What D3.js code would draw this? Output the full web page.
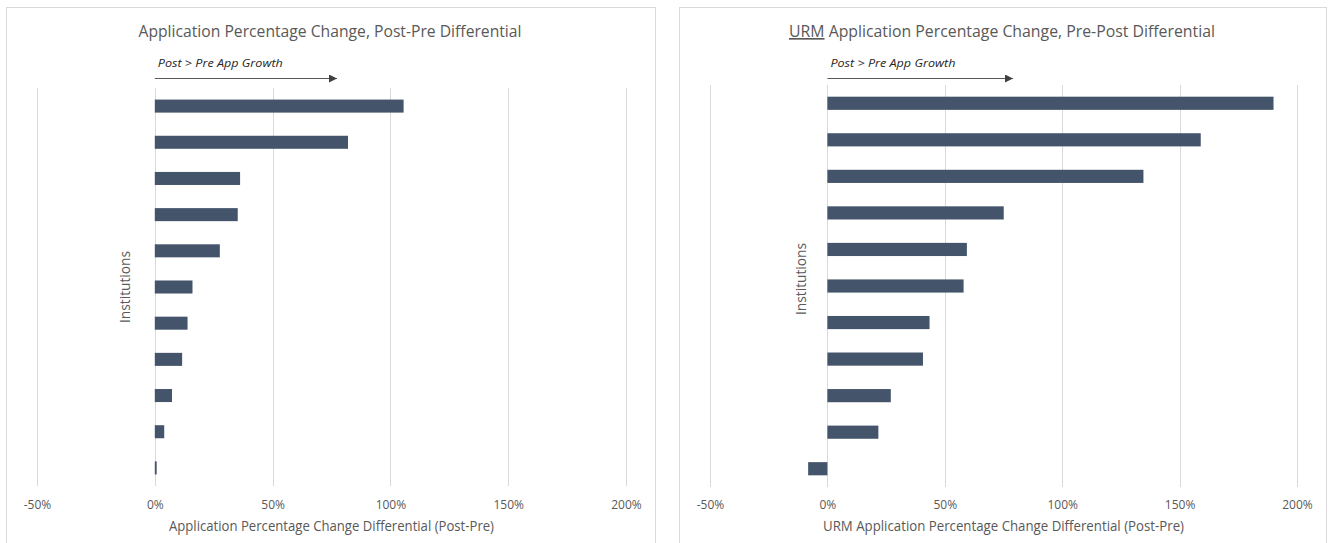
<!DOCTYPE html>
<html>
<head>
<meta charset="utf-8">
<script src="https://cdn.jsdelivr.net/npm/d3@7"></script>
<style>
  html, body { margin: 0; padding: 0; background: #fff; }
  svg { display: block; }
  text { font-family: "Open Sans", "Noto Sans", "Liberation Sans", sans-serif; fill: #595959; }
</style>
</head>
<body>
<svg id="chart" width="1329" height="543"></svg>
<script>
// ---- Data ----
const institutions = ["I1","I2","I3","I4","I5","I6","I7","I8","I9","I10","I11"];
const appDiff = [1.056, 0.82, 0.362, 0.352, 0.276, 0.16, 0.139, 0.116, 0.073, 0.04, 0.008];
const urmAppDiff = [1.90, 1.59, 1.346, 0.751, 0.594, 0.58, 0.435, 0.407, 0.27, 0.217, -0.082];
const tickValues = [-0.5, 0, 0.5, 1, 1.5, 2];
const tickLabels = ["-50%", "0%", "50%", "100%", "150%", "200%"];
const annotationText = "Post > Pre App Growth";
const yAxisTitle = "Institutions";

const svg = d3.select("#chart");
const defs = svg.append("defs");
defs.append("marker")
  .attr("id", "arrowhead")
  .attr("viewBox", "0 0 10 10")
  .attr("refX", 10).attr("refY", 5)
  .attr("markerWidth", 9).attr("markerHeight", 8)
  .attr("markerUnits", "userSpaceOnUse")
  .attr("orient", "auto")
  .append("path").attr("d", "M0,0 L10,5 L0,10 Z").attr("fill", "#404040");

function drawPanel(cfg) {
  const g = svg.append("g");
  // panel border
  g.append("rect")
    .attr("x", cfg.panel[0] + 0.5).attr("y", 7.5)
    .attr("width", cfg.panel[1] - cfg.panel[0]).attr("height", 545)
    .attr("fill", "#fff").attr("stroke", "#d9d9d9").attr("stroke-width", 1);

  const x = d3.scaleLinear().domain([-0.5, 2]).range([cfg.xRange[0], cfg.xRange[1]]);
  const y = d3.scaleBand().domain(institutions).range([cfg.yRange[0], cfg.yRange[1]]).paddingInner(0.64).paddingOuter(0.32);

  // gridlines
  g.append("g").selectAll("line").data(tickValues).join("line")
    .attr("x1", d => Math.round(x(d)) + 0.5).attr("x2", d => Math.round(x(d)) + 0.5)
    .attr("y1", cfg.yRange[0]).attr("y2", cfg.yRange[1])
    .attr("stroke", "#d9d9d9").attr("stroke-width", 1);

  // axis tick labels via d3 axis
  const axis = d3.axisBottom(x).tickValues(tickValues)
    .tickFormat((d, i) => tickLabels[i]).tickSize(0).tickPadding(0);
  const ag = g.append("g").attr("transform", `translate(0,${cfg.tickY})`).call(axis);
  ag.select(".domain").remove();
  ag.selectAll("text")
    .attr("dy", "0.35em")
    .style("font-size", "12px").style("fill", "#595959")
    .style("font-family", '"Open Sans", "Noto Sans", sans-serif');

  // bars
  g.append("g").selectAll("rect").data(cfg.values).join("rect")
    .attr("x", d => x(Math.min(0, d)))
    .attr("y", (d, i) => y(institutions[i]))
    .attr("width", d => Math.abs(x(d) - x(0)))
    .attr("height", y.bandwidth())
    .attr("fill", "#44546a");

  // title
  const t = g.append("text")
    .attr("x", cfg.titleX).attr("y", 37)
    .attr("text-anchor", "middle")
    .attr("textLength", cfg.titleLen).attr("lengthAdjust", "spacingAndGlyphs")
    .style("font-size", "16.5px");
  if (cfg.titleUnderlined) {
    t.append("tspan").text(cfg.titleUnderlined).style("text-decoration", "underline");
  }
  t.append("tspan").text(cfg.title);

  // annotation
  g.append("text")
    .attr("x", x(0) + 3).attr("y", 67)
    .attr("textLength", cfg.annLen).attr("lengthAdjust", "spacingAndGlyphs")
    .style("font-size", "11.5px").style("font-style", "italic").style("fill", "#262626")
    .text(annotationText);
  g.append("line")
    .attr("x1", x(0)).attr("x2", cfg.arrowEnd)
    .attr("y1", 78.5).attr("y2", 78.5)
    .attr("stroke", "#595959").attr("stroke-width", 1)
    .attr("marker-end", "url(#arrowhead)");

  // x axis title
  g.append("text")
    .attr("x", (cfg.xRange[0] + cfg.xRange[1]) / 2).attr("y", 531)
    .attr("text-anchor", "middle")
    .attr("textLength", cfg.xTitleLen).attr("lengthAdjust", "spacingAndGlyphs")
    .style("font-size", "14px")
    .text(cfg.xTitle);

  // y axis title
  g.append("text")
    .attr("transform", `translate(${cfg.yTitleX},${cfg.yTitleY}) rotate(-90)`)
    .attr("text-anchor", "middle")
    .attr("textLength", 72).attr("lengthAdjust", "spacingAndGlyphs")
    .style("font-size", "14px")
    .text(yAxisTitle);
}

drawPanel({
  panel: [6, 655],
  xRange: [37, 626],
  yRange: [88, 486],
  tickY: 505,
  values: appDiff,
  title: "Application Percentage Change,  Post-Pre Differential",
  titleX: 330, titleLen: 383,
  annLen: 125, arrowEnd: 337,
  xTitle: "Application Percentage Change Differential (Post-Pre)", xTitleLen: 325,
  yTitleX: 130, yTitleY: 287
});

drawPanel({
  panel: [679, 1326],
  xRange: [710, 1297],
  yRange: [85, 487],
  tickY: 505,
  values: urmAppDiff,
  titleUnderlined: "URM",
  title: " Application Percentage Change, Pre-Post Differential",
  titleX: 1002, titleLen: 426,
  annLen: 125, arrowEnd: 1013,
  xTitle: "URM Application Percentage Change Differential (Post-Pre)", xTitleLen: 361,
  yTitleX: 806, yTitleY: 279
});
</script>
</body>
</html>
